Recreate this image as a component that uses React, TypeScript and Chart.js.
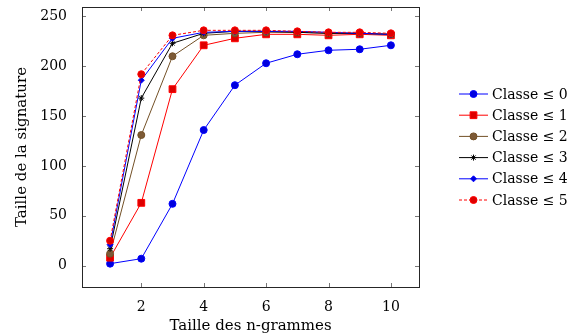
import React, { useEffect, useRef } from 'react';
import { Chart, registerables } from 'chart.js';
import { drawPoint } from 'chart.js/helpers';

Chart.register(...registerables);

const ngramSizes = [1, 2, 3, 4, 5, 6, 7, 8, 9, 10];
const classe0 = [2, 7, 62, 136, 181, 203, 212, 216, 217, 221];
const classe1 = [8, 63, 177, 221, 228, 232, 232, 231, 232, 231];
const classe2 = [12, 131, 210, 231, 233, 234, 234, 233, 233, 232];
const classe3 = [17, 168, 223, 233, 235, 235, 234, 233, 233, 232];
const classe4 = [21, 186, 228, 234, 235, 235, 235, 234, 233, 232];
const classe5 = [25, 192, 231, 236, 236, 236, 235, 234, 234, 233];
const seriesLabels = ['Classe ≤ 0', 'Classe ≤ 1', 'Classe ≤ 2', 'Classe ≤ 3', 'Classe ≤ 4', 'Classe ≤ 5'];
const xTicks = [2, 4, 6, 8, 10];
const yTicks = [0, 50, 100, 150, 200, 250];
const xTitle = 'Taille des n-grammes';
const yTitle = 'Taille de la signature';

const FONT = '"DejaVu Serif", serif';

const styles = [
  { line: '#0000ff', fill: '#0000dd', point: 'circle', r: 3.5, dash: [] as number[] },
  { line: '#ff0000', fill: '#dd0000', point: 'rect', r: 4.8, dash: [] as number[] },
  { line: '#735026', fill: '#7d5a36', point: 'circle', r: 3.5, dash: [] as number[] },
  { line: '#000000', fill: '#000000', point: 'star', r: 3, dash: [] as number[] },
  { line: '#0000ff', fill: '#0000dd', point: 'rectRot', r: 3, dash: [] as number[] },
  { line: '#ff0000', fill: '#dd0000', point: 'circle', r: 3.5, dash: [3, 2] },
];

const seriesValues = [classe0, classe1, classe2, classe3, classe4, classe5];

const framePlugin = {
  id: 'frameTicksLegend',
  afterDraw(chart: any) {
    const { ctx, chartArea: a, scales } = chart;
    const xs = scales.x;
    const ys = scales.y;
    ctx.save();
    ctx.strokeStyle = '#777';
    ctx.lineWidth = 1;
    ctx.beginPath();
    for (const v of xTicks) {
      const px = Math.round(xs.getPixelForValue(v)) + 0.5;
      ctx.moveTo(px, a.bottom);
      ctx.lineTo(px, a.bottom - 4);
      ctx.moveTo(px, a.top);
      ctx.lineTo(px, a.top + 4);
    }
    for (const v of yTicks) {
      const py = Math.round(ys.getPixelForValue(v)) + 0.5;
      ctx.moveTo(a.left, py);
      ctx.lineTo(a.left + 4, py);
      ctx.moveTo(a.right, py);
      ctx.lineTo(a.right - 4, py);
    }
    ctx.stroke();
    ctx.strokeStyle = '#262626';
    ctx.lineWidth = 1;
    ctx.strokeRect(Math.round(a.left) + 0.5, Math.round(a.top) + 0.5, Math.round(a.right - a.left), Math.round(a.bottom - a.top));
    const x0 = 459;
    const x1 = 488;
    const y0 = 94;
    const dy = 21.2;
    ctx.font = '14px ' + FONT;
    ctx.textBaseline = 'middle';
    ctx.textAlign = 'left';
    styles.forEach((s, i) => {
      const y = y0 + i * dy;
      ctx.save();
      ctx.strokeStyle = s.line;
      ctx.lineWidth = 1;
      ctx.setLineDash(s.dash);
      ctx.beginPath();
      ctx.moveTo(x0, y);
      ctx.lineTo(x1, y);
      ctx.stroke();
      ctx.restore();
      ctx.save();
      ctx.strokeStyle = s.line;
      ctx.fillStyle = s.fill;
      ctx.lineWidth = 1;
      ctx.setLineDash([]);
      drawPoint(ctx, { pointStyle: s.point, radius: s.r, rotation: 0, borderWidth: 1 } as any, (x0 + x1) / 2, y);
      ctx.restore();
      ctx.fillStyle = '#000';
      ctx.fillText(seriesLabels[i], 492, y + 1);
    });
    ctx.restore();
  },
};

export default function App() {
  const ref = useRef<HTMLCanvasElement | null>(null);
  useEffect(() => {
    if (!ref.current) return;
    const datasets = seriesValues.map((vals, i) => {
      const s = styles[i];
      return {
        label: seriesLabels[i],
        data: vals.map((v, j) => ({ x: ngramSizes[j], y: v })),
        borderColor: s.line,
        backgroundColor: s.fill,
        borderWidth: 1,
        borderDash: s.dash,
        pointStyle: s.point,
        pointRadius: s.r,
        pointBackgroundColor: s.fill,
        pointBorderColor: s.line,
        pointBorderWidth: 1,
        tension: 0,
        fill: false,
        order: 5 - i,
      };
    });
    const chart = new Chart(ref.current, {
      type: 'line',
      data: { datasets },
      plugins: [framePlugin],
      options: {
        animation: false,
        responsive: false,
        devicePixelRatio: 1,
        layout: { padding: { top: 7, right: 152, left: 0, bottom: 0 } },
        plugins: { legend: { display: false }, tooltip: { enabled: false } },
        scales: {
          x: {
            type: 'linear',
            min: 0.1,
            max: 10.9,
            grid: { display: false },
            border: { display: false },
            ticks: { font: { family: FONT, size: 14 }, color: '#000', padding: 4, maxRotation: 0, autoSkip: false },
            afterBuildTicks: (s: any) => { s.ticks = xTicks.map((value) => ({ value })); },
            afterFit: (s: any) => { s.height = 49; s.paddingLeft = 0; s.paddingRight = 0; },
            title: { display: true, text: xTitle, color: '#000', font: { family: FONT, size: 15 }, padding: { top: 0, bottom: 1 } },
          },
          y: {
            type: 'linear',
            min: -21.4,
            max: 259.4,
            grid: { display: false },
            border: { display: false },
            ticks: { font: { family: FONT, size: 14 }, color: '#000', padding: 7, autoSkip: false },
            afterBuildTicks: (s: any) => { s.ticks = yTicks.map((value) => ({ value })); },
            afterFit: (s: any) => { s.width = 82; s.paddingTop = 0; s.paddingBottom = 0; },
            title: { display: true, text: yTitle, color: '#000', font: { family: FONT, size: 15 }, padding: { top: 13, bottom: 0 } },
          },
        },
      } as any,
    });
    return () => chart.destroy();
  }, []);
  return (
    <div style={{ position: 'absolute', left: 0, top: 0, width: 571, height: 336, background: '#fff' }}>
      <canvas ref={ref} width={571} height={336} style={{ width: 571, height: 336 }} />
    </div>
  );
}
